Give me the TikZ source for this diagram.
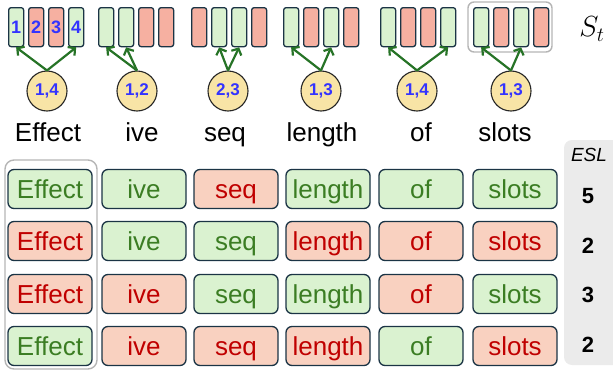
\documentclass[tikz,border=0pt]{standalone}
\usepackage{fontspec}
\setmainfont{Liberation Sans}
\usetikzlibrary{arrows.meta}
\definecolor{slotG}{HTML}{DAF2D0}
\definecolor{slotR}{HTML}{F6B0A1}
\definecolor{cellGfill}{HTML}{DAF2D0}
\definecolor{cellRfill}{HTML}{F9D1C0}
\definecolor{bordercol}{HTML}{1B3445}
\definecolor{textG}{HTML}{3B7D23}
\definecolor{textR}{HTML}{C00000}
\definecolor{circfill}{HTML}{F8E4A6}
\definecolor{numblue}{HTML}{3333FF}
\definecolor{arrgreen}{HTML}{267326}
\definecolor{grayout}{HTML}{B5B5B5}
\definecolor{panelgray}{HTML}{EBEBEB}
\begin{document}
\begin{tikzpicture}[x=1pt,y=-1pt,
  slotbox/.style={draw=bordercol, line width=1.3pt, rounded corners=2.5pt,
    minimum width=15pt, minimum height=39pt, inner sep=0pt, anchor=north west},
  slotnum/.style={text=numblue, font=\fontsize{18}{20}\selectfont\bfseries, inner sep=0pt},
  circ/.style={circle, draw=black!85, line width=1.1pt, fill=circfill, minimum size=40pt,
    inner sep=0pt, text=numblue, font=\fontsize{17}{19}\selectfont\bfseries},
  arr/.style={draw=arrgreen, line width=2.2pt, -{Straight Barb[length=5pt,width=11pt]}},
  lab/.style={font=\fontsize{26}{28}\selectfont, inner sep=0pt, anchor=base},
  cell/.style={draw=bordercol, line width=1.3pt, rounded corners=6pt, minimum width=84pt,
    minimum height=39pt, inner sep=0pt, font=\fontsize{26}{28}\selectfont,
    text height=18.5pt, text depth=0pt},
  cellG/.style={cell, fill=cellGfill, text=textG},
  cellR/.style={cell, fill=cellRfill, text=textR},
  grayframe/.style={draw=grayout, line width=1.4pt, rounded corners=9pt},
  eslnum/.style={font=\fontsize{22}{24}\selectfont\bfseries, inner sep=0pt}
]
\useasboundingbox (0,0) rectangle (613,372);

% ESL panel
\begin{scope}
\clip (0,0) rectangle (613,372);
\fill[panelgray, rounded corners=8pt] (564,140) rectangle (630,365);
\end{scope}

% top slot groups
\foreach \g/\gx/\ca/\cb/\cc/\cd in {1/8/G/R/R/G, 2/98/G/G/R/R, 3/191/R/G/G/R, 4/283/G/R/G/R, 5/380/G/R/R/G, 6/473/G/R/G/R}{
  \node[slotbox, fill=slot\ca] (s\g-1) at (\gx,7) {};
  \node[slotbox, fill=slot\cb] (s\g-2) at (\gx+20,7) {};
  \node[slotbox, fill=slot\cc] (s\g-3) at (\gx+40,7) {};
  \node[slotbox, fill=slot\cd] (s\g-4) at (\gx+60,7) {};
}
\foreach \i in {1,...,4}{
  \node[slotnum] (n\i) at (s1-\i) {\i};
}

% frame around last group
\draw[grayframe, rounded corners=6pt] (468,2) rectangle (552,52);

% circles
\foreach \g/\cx/\txt in {1/47/{1,4}, 2/137/{1,2}, 3/228/{2,3}, 4/321/{1,3}, 5/417/{1,4}, 6/511/{1,3}}{
  \node[circ] (c\g) at (\cx,91) {\txt};
}

% arrows
\foreach \g/\a/\b in {1/1/4, 2/1/2, 3/2/3, 4/1/3, 5/1/4, 6/1/3}{
  \draw[arr] (c\g.north) -- (s\g-\a.south);
  \draw[arr] (c\g.north) -- (s\g-\b.south);
}

% labels
\foreach \g/\lx/\w in {1/48/Effect, 2/142/ive, 3/225/seq, 4/322/length, 5/421/of, 6/505/slots}{
  \node[lab] (l\g) at (\lx,141) {\w};
}

% S_t
\node[inner sep=0pt, font=\fontsize{20}{22}\selectfont, scale=1.4, transform shape] (st) at (592,29) {$S_t$};

% table
\foreach \r/\ry/\ca/\cb/\cc/\cd/\ce/\cf in {1/189/G/G/R/G/G/G, 2/241/R/G/G/R/R/R, 3/294/R/R/G/G/R/G, 4/346/G/R/R/R/G/R}{
  \node[cell\ca] (t\r-1) at (50,\ry) {Effect};
  \node[cell\cb] (t\r-2) at (144,\ry) {ive};
  \node[cell\cc] (t\r-3) at (236,\ry) {seq};
  \node[cell\cd] (t\r-4) at (328,\ry) {length};
  \node[cell\ce] (t\r-5) at (421,\ry) {of};
  \node[cell\cf] (t\r-6) at (515,\ry) {slots};
}

% frame around Effect column
\draw[grayframe] (5,160) rectangle (97,369);

% ESL column
\node[inner sep=0pt, font=\fontsize{19}{22}\selectfont\itshape] (esl) at (589,155) {ESL};
\node[eslnum] (e1) at (588,196) {5};
\node[eslnum] (e2) at (588,246) {2};
\node[eslnum] (e3) at (588,295) {3};
\node[eslnum] (e4) at (588,345) {2};
\end{tikzpicture}
\end{document}
